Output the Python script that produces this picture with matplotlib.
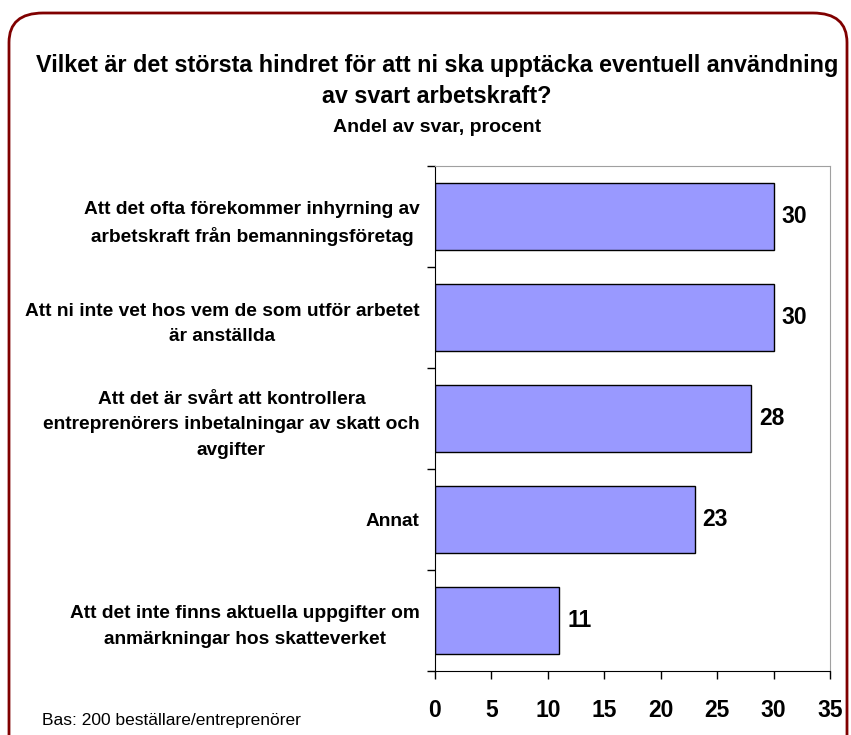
import matplotlib
matplotlib.use("Agg")
import matplotlib.pyplot as plt
from matplotlib.patches import FancyBboxPatch
import numpy as np

plt.rcParams['font.family'] = ['Liberation Sans', 'DejaVu Sans']

categories = [
    "Att det ofta förekommer inhyrning av\narbetskraft från bemanningsföretag",
    "Att ni inte vet hos vem de som utför arbetet\när anställda",
    "Att det är svårt att kontrollera\nentreprenörers inbetalningar av skatt och\navgifter",
    "Annat",
    "Att det inte finns aktuella uppgifter om\nanmärkningar hos skatteverket",
]
values = [30, 30, 28, 23, 11]
xticks = [0, 5, 10, 15, 20, 25, 30, 35]

title1 = "Vilket är det största hindret för att ni ska upptäcka eventuell användning\nav svart arbetskraft?"
title2 = "Andel av svar, procent"
note = "Bas: 200 beställare/entreprenörer"

W, H = 851, 735
fig = plt.figure(figsize=(W / 100, H / 100), dpi=100)

# rounded frame
frame = FancyBboxPatch((9 / W, -0.05), (838 / W), (1 - 13 / H) + 0.05,
                       boxstyle="round,pad=0,rounding_size=0.04",
                       transform=fig.transFigure, fill=False,
                       edgecolor='#800000', linewidth=2.0, zorder=0)
fig.patches.append(frame)

ax = fig.add_axes([435 / W, 1 - 671 / H, 395 / W, 505 / H])

n = len(categories)
y = np.arange(n)
ax.barh(y, values, height=0.66, color='#9999FF', edgecolor='black', linewidth=1.0, zorder=2)
ax.set_ylim(n - 0.5, -0.5)
ax.set_xlim(0, 35)

ax.set_xticks(xticks)
ax.set_xticklabels([str(t) for t in xticks], fontsize=16.5, fontweight='bold')
ax.tick_params(axis='x', length=6, width=1, pad=14, direction='out')

ax.set_yticks(y)
ax.set_yticklabels(categories, fontsize=13.8, fontweight='bold', linespacing=1.65)
for lab in ax.get_yticklabels():
    lab.set_multialignment('center')
ax.tick_params(axis='y', which='major', length=0, pad=11)
ax.set_yticks(np.arange(n + 1) - 0.5, minor=True)
ax.tick_params(axis='y', which='minor', length=6, width=1, direction='out')

for s in ['top', 'right']:
    ax.spines[s].set_color('#A0A0A0')
for s in ['left', 'bottom']:
    ax.spines[s].set_color('black')

for yi, v in zip(y, values):
    ax.text(v + 0.7, yi, str(v), va='center', ha='left', fontsize=16.5, fontweight='bold')

fig.text(437 / W, 1 - 81 / H, title1, ha='center', va='center', fontsize=16.85,
         fontweight='bold', linespacing=1.45)
fig.text(437 / W, 1 - 128 / H, title2, ha='center', va='center', fontsize=14, fontweight='bold')
fig.text(42 / W, 1 - 721 / H, note, ha='left', va='center', fontsize=12.5)

fig.savefig("out.png", dpi=100)
